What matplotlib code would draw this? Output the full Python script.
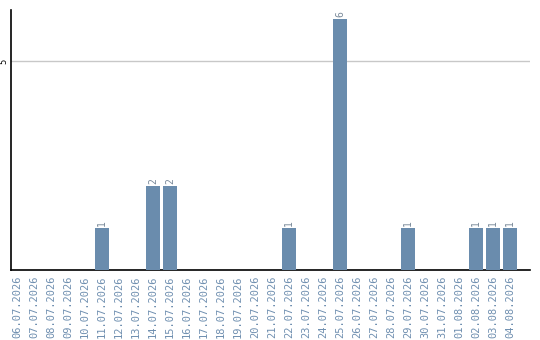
import matplotlib
matplotlib.use("Agg")
import matplotlib.pyplot as plt

dates = ["06.07.2026", "07.07.2026", "08.07.2026", "09.07.2026", "10.07.2026",
         "11.07.2026", "12.07.2026", "13.07.2026", "14.07.2026", "15.07.2026",
         "16.07.2026", "17.07.2026", "18.07.2026", "19.07.2026", "20.07.2026",
         "21.07.2026", "22.07.2026", "23.07.2026", "24.07.2026", "25.07.2026",
         "26.07.2026", "27.07.2026", "28.07.2026", "29.07.2026", "30.07.2026",
         "31.07.2026", "01.08.2026", "02.08.2026", "03.08.2026", "04.08.2026"]
counts = [0, 0, 0, 0, 0, 1, 0, 0, 2, 2,
          0, 0, 0, 0, 0, 0, 1, 0, 0, 6,
          0, 0, 0, 1, 0, 0, 0, 1, 1, 1]

bar_color = "#6a8cad"
label_color = "#6f8fb0"

fig = plt.figure(figsize=(5.4, 3.4), dpi=100)
ax = fig.add_axes([11 / 540, 70 / 340, 519 / 540, 260 / 340])

x = list(range(len(dates)))
ax.bar(x, counts, width=0.82, color=bar_color, zorder=3)

for xi, v in zip(x, counts):
    if v > 0:
        ax.text(xi, v + 0.05, str(v), rotation=90, ha="center", va="bottom",
                fontsize=7, color="#7a8a9a", family="DejaVu Sans Mono")

ax.set_xlim(-0.35, 30.18)
ax.set_ylim(0, 6.22)
ax.set_yticks([5])
ax.set_yticklabels(["5"], rotation=90, va="center", fontsize=6)
ax.yaxis.grid(True, color="#c8c8c8", linewidth=1, zorder=0)
ax.tick_params(axis="y", length=0, pad=2)

ax.set_xticks(x)
ax.set_xticklabels(dates, rotation=90, fontsize=7.5, color=label_color,
                   family="DejaVu Sans Mono")
ax.tick_params(axis="x", length=0, pad=4)

for side in ("top", "right"):
    ax.spines[side].set_visible(False)
ax.spines["left"].set_linewidth(1.2)
ax.spines["bottom"].set_linewidth(1.2)

fig.savefig("out.png", dpi=100)
